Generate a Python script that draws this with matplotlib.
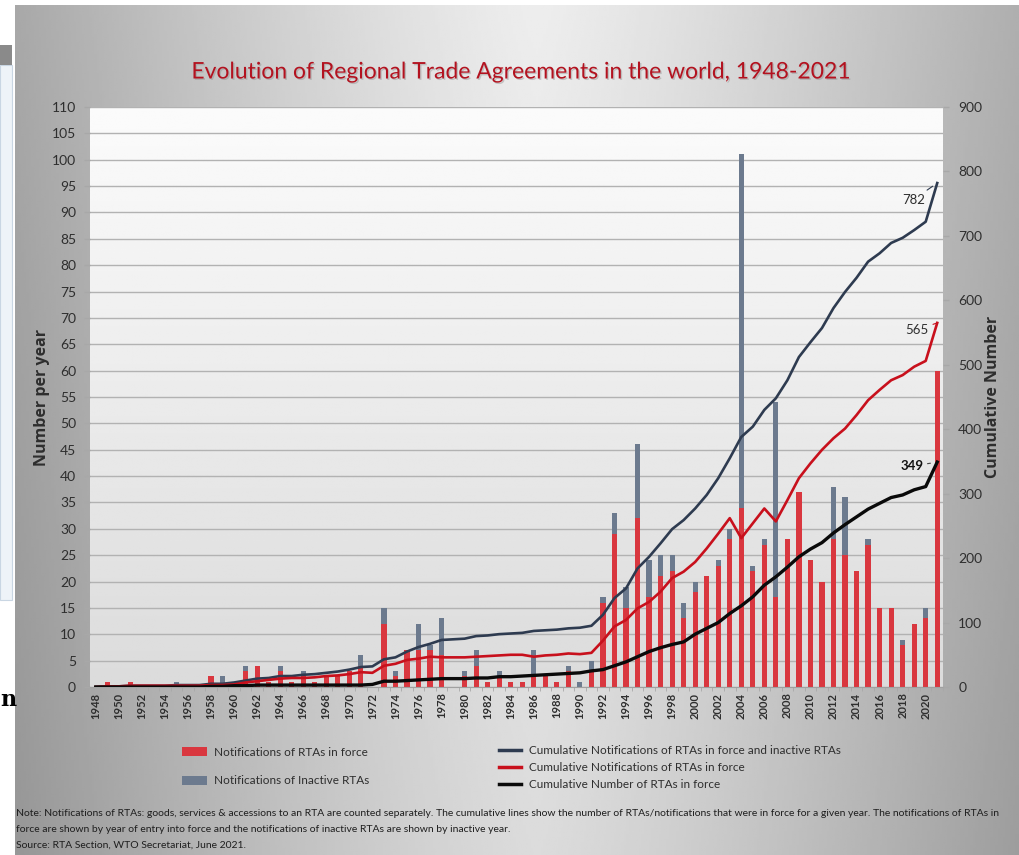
import numpy as np
import matplotlib
matplotlib.use('Agg')
import matplotlib.pyplot as plt
from matplotlib.patches import Rectangle, Patch
from matplotlib.lines import Line2D
import matplotlib.patheffects as pe

# ---------------- data ----------------
years = list(range(1948, 2022))
in_force = [0, 1, 0, 1, 0, 0, 0, 0, 0, 0,      # 1948-1957
            2, 0, 0, 3, 4, 1, 3, 1, 2, 1,      # 1958-1967
            2, 2, 3, 4, 0, 12, 2, 7, 7, 7,     # 1968-1977
            6, 0, 2, 4, 1, 2, 1, 1, 2, 2,      # 1978-1987
            1, 3, 0, 3, 16, 29, 15, 32, 17, 21,  # 1988-1997
            22, 13, 18, 21, 23, 28, 34, 22, 27, 17,  # 1998-2007
            28, 37, 24, 20, 28, 25, 22, 27, 15, 15,  # 2008-2017
            8, 12, 13, 60]                      # 2018-2021
inactive = [0, 0, 0, 0, 0, 0, 0, 1, 0, 0,
            0, 2, 0, 1, 0, 0, 1, 0, 1, 0,
            0, 0, 0, 2, 0, 3, 1, 0, 5, 1,
            7, 0, 1, 3, 0, 1, 0, 0, 5, 0,
            0, 1, 1, 2, 1, 4, 4, 14, 7, 4,
            3, 3, 2, 0, 1, 2, 67, 1, 1, 37,
            0, 0, 0, 0, 10, 11, 0, 1, 0, 0,
            1, 0, 2, 0]
cum_total = [0, 1, 1, 2, 2, 2, 2, 3, 3, 3,
             5, 5, 7, 10, 13, 14, 17, 17, 19, 20,
             22, 24, 27, 31, 32, 43, 46, 55, 62, 67,
             73, 74, 75, 79, 80, 82, 83, 84, 87, 88,
             89, 91, 92, 95, 112, 138, 153, 184, 202, 223,
             245, 259, 277, 298, 324, 355, 388, 404, 430, 448,
             476, 512, 535, 557, 588, 613, 635, 660, 673, 689,
             697, 709, 722, 782]
cum_in_force = [0, 1, 1, 2, 2, 2, 2, 2, 2, 2,
                3, 3, 4, 7, 9, 11, 13, 14, 14, 15,
                17, 18, 20, 23, 22, 33, 36, 42, 44, 47,
                46, 46, 46, 47, 48, 49, 50, 50, 47, 49,
                50, 52, 51, 53, 72, 94, 104, 122, 132, 148,
                169, 179, 194, 215, 238, 262, 231, 254, 277, 257,
                290, 324, 347, 368, 386, 401, 422, 445, 461, 476,
                484, 497, 506, 565]
cum_rtas = [0, 0, 0, 0, 0, 0, 0, 0, 0, 0,
            1, 1, 2, 2, 3, 3, 3, 3, 3, 3,
            3, 3, 3, 3, 4, 9, 9, 10, 11, 12,
            13, 13, 13, 14, 14, 16, 16, 17, 18, 19,
            20, 21, 22, 25, 27, 33, 39, 47, 55, 61,
            66, 70, 82, 91, 100, 114, 126, 140, 158, 171,
            186, 202, 214, 224, 239, 252, 264, 276, 285, 294,
            298, 306, 311, 349]

title = "Evolution of Regional Trade Agreements in the world, 1948-2021"
left_ticks = list(range(0, 111, 5))
right_ticks = list(range(0, 901, 100))
bar_labels = ["Notifications of RTAs in force", "Notifications of Inactive RTAs"]
line_labels = ["Cumulative Notifications of RTAs in force and inactive RTAs",
               "Cumulative Notifications of RTAs in force",
               "Cumulative Number of RTAs in force"]
note_lines = [
    "Note: Notifications of RTAs: goods, services & accessions to an RTA are counted separately. The cumulative lines show the number of RTAs/notifications that were in force for a given year. The notifications of RTAs in",
    "force are shown by year of entry into force and the notifications of inactive RTAs are shown by inactive year.",
    "Source: RTA Section, WTO Secretariat, June 2021.",
]

# ---------------- style ----------------
RED = '#d9373f'
GRAY = '#6c7a8e'
BLUE_LINE = '#2e3b50'
RED_LINE = '#c8101c'
BLACK_LINE = '#0a0a0a'
TXT = '#2e2e2e'
FONT = 'Lato'

W, H = 1019, 855
fig = plt.figure(figsize=(W / 100, H / 100), dpi=100)
fig.patch.set_facecolor('white')


def fx(px):
    return px / W


def fy(py):
    return 1 - py / H


# background panel gradient
bg = fig.add_axes([fx(15), 0, 1 - fx(15), fy(5)], zorder=-10)
u = np.linspace(0, 1, 400)[None, :]
v = np.linspace(0, 1, 300)[:, None]
d = np.abs(u - 0.52) / 0.52
bright = 0.93 - 0.27 * np.clip(d, 0, 1.2) ** 1.25 - 0.07 * v
bg.imshow(bright, cmap='gray', vmin=0, vmax=1, aspect='auto', extent=[0, 1, 0, 1])
bg.set_axis_off()

# left strip (neighbouring slide)
strip = fig.add_axes([0, 0, fx(14), 1], zorder=-9)
strip.set_xlim(0, 1)
strip.set_ylim(0, 1)
strip.set_facecolor('white')
strip.add_patch(Rectangle((0, fy(600)), 0.85, fy(65) - fy(600), facecolor='#eef3f8',
                          edgecolor='#c9d6e3', lw=0.8))
strip.add_patch(Rectangle((0, fy(65)), 0.85, fy(45) - fy(65), facecolor='#8a8a8a', lw=0))
strip.set_axis_off()
fig.text(fx(0), fy(700), 'n', fontsize=16, fontweight='bold', family='DejaVu Serif',
         ha='left', va='center', color='black')

# ---------------- main axes ----------------
L, R, T, B = 90, 943, 107, 687
ax = fig.add_axes([fx(L), fy(B), (R - L) / W, (B - T) / H])
ax.set_facecolor('none')
grad = np.linspace(0.86, 0.985, 200)[:, None] * np.ones((1, 10))
ax.imshow(grad, cmap='gray', vmin=0, vmax=1, aspect='auto', extent=[0, 1, 0, 1],
          transform=ax.transAxes, zorder=-5, origin='lower')

x = np.arange(len(years))
ax.bar(x, in_force, width=0.45, color=RED, zorder=2, linewidth=0)
ax.bar(x, inactive, width=0.45, bottom=in_force, color=GRAY, zorder=2, linewidth=0)

ax.set_xlim(-0.5, len(years) - 0.5)
ax.set_ylim(0, 110)
ax.set_yticks(left_ticks)
ax.set_yticklabels([str(t) for t in left_ticks], fontsize=10, color=TXT, family=FONT)
ax.yaxis.grid(True, color='#b2b2b2', lw=1.0)
ax.set_axisbelow(True)
ax.tick_params(axis='y', length=4, width=1.0, color='#a8a8a8', pad=6)

xt = [i for i, yv in enumerate(years) if yv % 2 == 0]
ax.set_xticks(xt)
ax.set_xticklabels([str(years[i]) for i in xt], rotation=90, fontsize=8,
                   fontweight='bold', color=TXT, family=FONT)
ax.set_xticks(np.arange(-0.5, len(years), 1), minor=True)
ax.tick_params(axis='x', which='major', length=0, pad=4)
ax.tick_params(axis='x', which='minor', length=3, color='#a8a8a8')
for s in ['top', 'left', 'right']:
    ax.spines[s].set_visible(False)
ax.spines['bottom'].set_color('#a0a0a0')

ax2 = ax.twinx()
ax2.set_ylim(0, 900)
ax2.set_yticks(right_ticks)
ax2.set_yticklabels([str(t) for t in right_ticks], fontsize=10, color=TXT, family=FONT)
ax2.tick_params(axis='y', length=4, width=1.0, color='#a8a8a8', pad=7)
for s in ['top', 'left', 'right', 'bottom']:
    ax2.spines[s].set_visible(False)

ax2.plot(x, cum_total, color=BLUE_LINE, lw=1.9, zorder=3, solid_joinstyle='round')
ax2.plot(x, cum_in_force, color=RED_LINE, lw=1.9, zorder=3, solid_joinstyle='round')
ax2.plot(x, cum_rtas, color=BLACK_LINE, lw=2.4, zorder=4, solid_joinstyle='round')

last = len(years) - 1
ax2.annotate(str(cum_total[-1]), xy=(last, cum_total[-1]), xytext=(-9, -12),
             textcoords='offset points', ha='right', va='center', fontsize=9.5,
             color=TXT, family=FONT,
             arrowprops=dict(arrowstyle='-', color=BLUE_LINE, lw=0.8, shrinkA=1, shrinkB=4))
ax2.annotate(str(cum_in_force[-1]), xy=(last, cum_in_force[-1]), xytext=(-6, -5),
             textcoords='offset points', ha='right', va='center', fontsize=9.5,
             color=TXT, family=FONT,
             arrowprops=dict(arrowstyle='-', color=RED_LINE, lw=0.8, shrinkA=1, shrinkB=4))
ax2.annotate(str(cum_rtas[-1]), xy=(last, cum_rtas[-1]), xytext=(-10, -3),
             textcoords='offset points', ha='right', va='center', fontsize=9.5,
             fontweight='bold', color='#111111', family=FONT,
             arrowprops=dict(arrowstyle='-', color='#444444', lw=0.8, shrinkA=1, shrinkB=5))

# axis titles
fig.text(fx(42), fy(397), 'Number per year', rotation=90, ha='center', va='center',
         fontsize=11.5, fontweight='bold', color=TXT, family='Open Sans')
fig.text(fx(993), fy(397), 'Cumulative Number', rotation=90, ha='center', va='center',
         fontsize=11.5, fontweight='bold', color=TXT, family='Open Sans')

# title
fig.text(fx(521), fy(72), title, ha='center', va='center', fontsize=16.5,
         color='#b3121f', family=FONT,
         path_effects=[pe.withSimplePatchShadow(offset=(1, -1), shadow_rgbFace='#888888', alpha=0.4)])

# legends
bar_handles = [Patch(facecolor=RED, edgecolor='none'), Patch(facecolor=GRAY, edgecolor='none')]
leg1 = fig.legend(bar_handles, bar_labels, loc='upper left',
                  bbox_to_anchor=(fx(182), fy(747)), frameon=False,
                  prop={'family': FONT, 'size': 8.5}, handlelength=2.1,
                  handleheight=0.8, handletextpad=0.6, labelspacing=1.45,
                  borderpad=0, borderaxespad=0)
for t in leg1.get_texts():
    t.set_color(TXT)
line_handles = [Line2D([], [], color=BLUE_LINE, lw=2.5),
                Line2D([], [], color=RED_LINE, lw=2.5),
                Line2D([], [], color=BLACK_LINE, lw=2.5)]
leg2 = fig.legend(line_handles, line_labels, loc='upper left',
                  bbox_to_anchor=(fx(499), fy(745)), frameon=False,
                  prop={'family': FONT, 'size': 8.5}, handlelength=1.9,
                  handletextpad=0.6, labelspacing=0.52, borderpad=0, borderaxespad=0)
for t in leg2.get_texts():
    t.set_color(TXT)

# note
for i, line in enumerate(note_lines):
    fig.text(fx(16), fy(813 + i * 16), line, ha='left', va='center', fontsize=7.5,
             color='#1e1e1e', family=FONT)

fig.savefig('out.png', dpi=100)
